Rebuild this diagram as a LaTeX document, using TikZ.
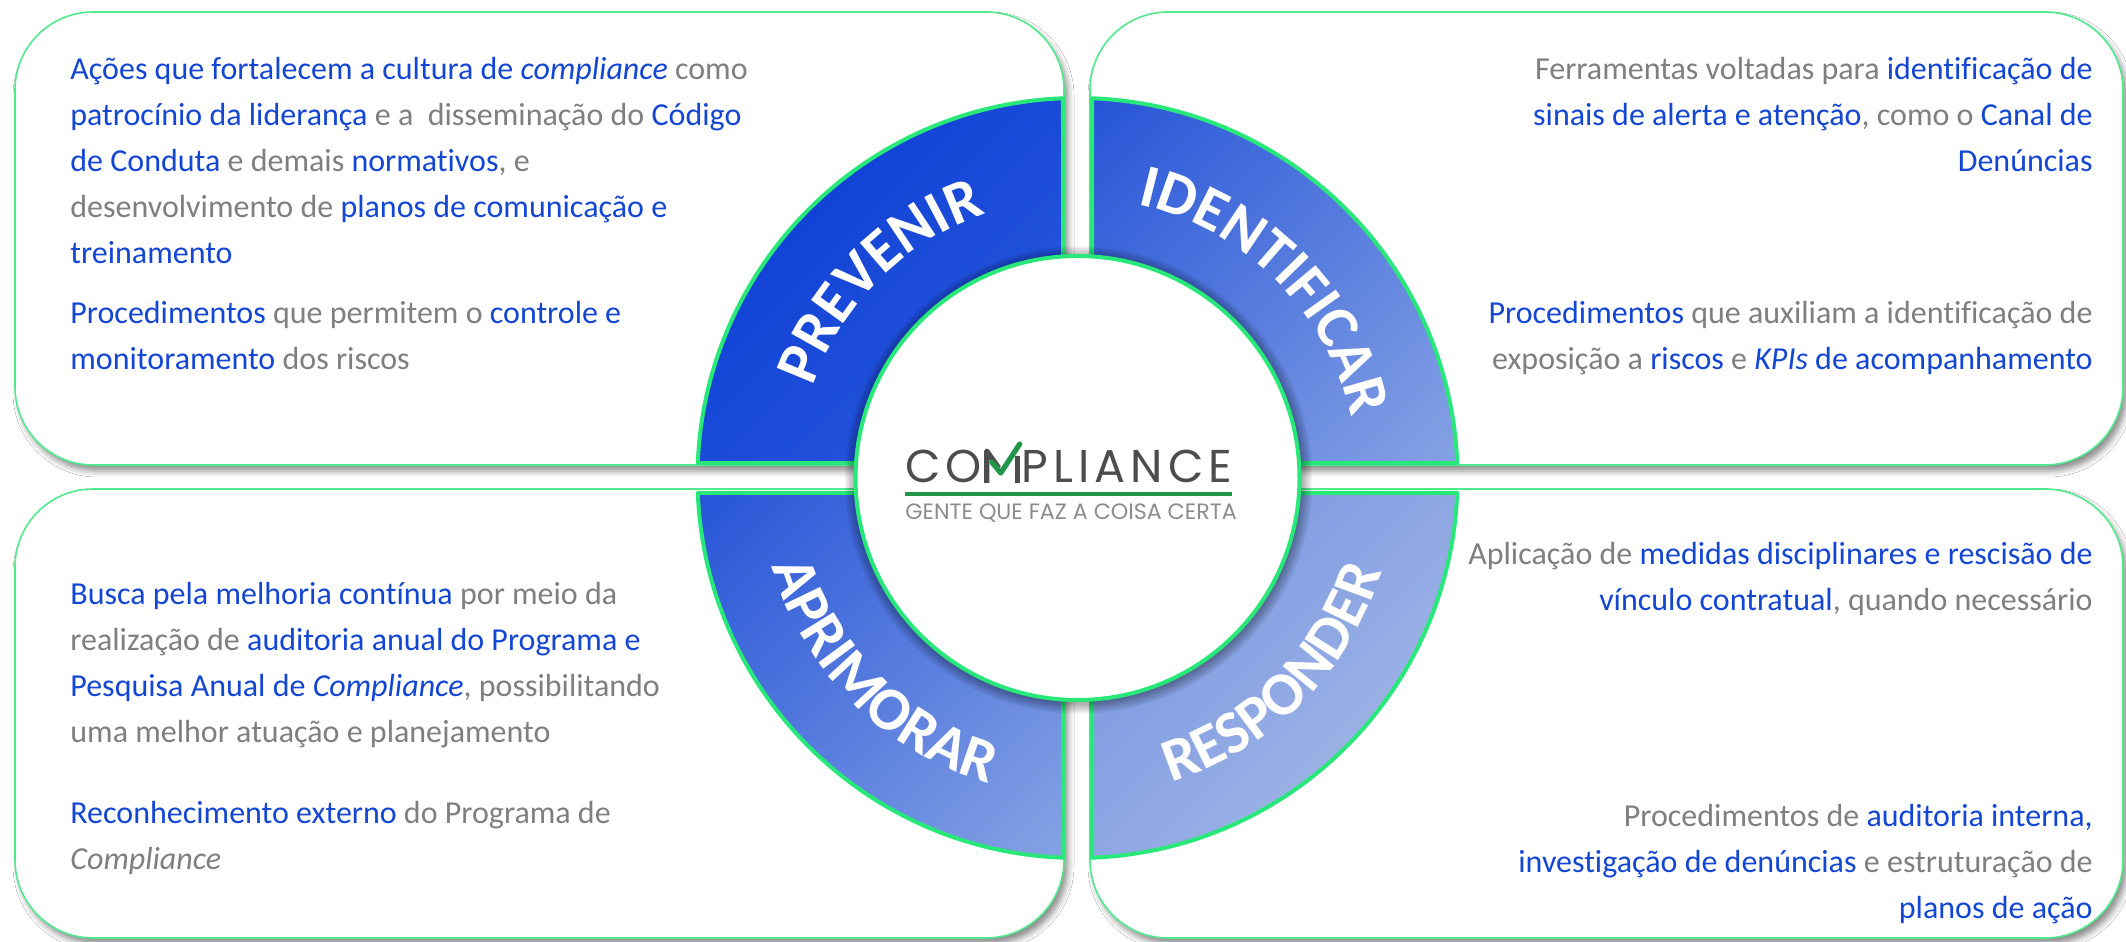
\documentclass[tikz,border=0pt]{standalone}
\usepackage{fontspec}
\setmainfont{Carlito}[Ligatures=NoCommon]
\newfontfamily\logofont{Poppins}[LetterSpace=11]
\newfontfamily\subfont{Poppins}
\usetikzlibrary{positioning,decorations.text,shadows.blur,shadings}

\definecolor{ringgreen}{RGB}{40,232,122}
\definecolor{boxgreen}{RGB}{80,234,142}
\definecolor{txtblue}{RGB}{20,70,212}
\definecolor{txtgray}{RGB}{127,127,127}
\definecolor{logogray}{RGB}{77,77,77}
\definecolor{logogreen}{RGB}{34,150,72}
\definecolor{subgray}{RGB}{140,140,140}
\definecolor{prevA}{RGB}{5,54,212}
\definecolor{prevB}{RGB}{46,94,220}
\definecolor{midA}{RGB}{38,84,216}
\definecolor{midB}{RGB}{134,162,228}
\definecolor{respA}{RGB}{111,143,224}
\definecolor{respB}{RGB}{174,192,232}

\newcommand{\bl}[1]{\textcolor{txtblue}{#1}}
\newcommand{\lblfont}{\fontsize{30.5}{31}\selectfont\bfseries}

\tikzset{
  box/.style={draw=boxgreen, line width=0.8pt, fill=white, rounded corners=39pt,
    blur shadow={shadow xshift=2pt, shadow yshift=-3pt, shadow blur radius=3pt, shadow opacity=45}},
  ring/.style={draw=ringgreen, line width=2pt},
  quad/.style 2 args={ring, upper left=#1, lower right=#2, upper right=#1!50!#2, lower left=#1!50!#2},
  txt/.style={inner sep=0pt, text=txtgray, font=\fontsize{16}{23}\selectfont},
  lbl/.style={decorate, decoration={text along path, text={|\lblfont|#1}, text align=center, text color=white}},
  logo/.style={inner sep=0pt, outer sep=0pt, text=logogray, font=\logofont\fontsize{23}{24}\selectfont},
  sub/.style={inner sep=0pt, text=subgray, font=\subfont\fontsize{11.1}{12}\selectfont},
}

\begin{document}
\begin{tikzpicture}[x=0.5pt,y=0.5pt,line join=round,line cap=round]
\useasboundingbox (0,0) rectangle (2126,942);
\fill[white] (0,0) rectangle (2126,942);

% boxes
\draw[box] (15,477) rectangle (1064,930);
\draw[box] (1090,477) rectangle (2123,930);
\draw[box] (15,4) rectangle (1064,453);
\draw[box] (1090,4) rectangle (2123,453);

% ring
\coordinate (C) at (1077.5,464);
\begin{scope}[shift={(C)}]
\shadedraw[quad={prevA}{prevB}] (-14.5,15) -- (92.19:380) arc[start angle=92.19,end angle=177.74,radius=380] -- cycle;
\shadedraw[quad={midA}{midB}] (14.5,15) -- (2.26:380) arc[start angle=2.26,end angle=87.81,radius=380] -- cycle;
\shadedraw[quad={midA}{midB}] (-14.5,-15) -- (182.26:380) arc[start angle=182.26,end angle=267.81,radius=380] -- cycle;
\shadedraw[quad={respA}{respB}] (14.5,-15) -- (272.19:380) arc[start angle=272.19,end angle=357.74,radius=380] -- cycle;
\foreach \r in {1,...,12}
  \fill[black,opacity=0.03] (1,-2) circle[radius=222+\r];
\draw[ring,fill=white] (0,0) circle[radius=222];
\path[lbl=PREVENIR] (180:280) arc[start angle=180,end angle=90,radius=280];
\path[lbl=IDENTIFICAR] (90:280) arc[start angle=90,end angle=0,radius=280];
\path[lbl=APRIMORAR] (180:318) arc[start angle=180,end angle=270,radius=318];
\path[lbl=RESPONDER] (270:318) arc[start angle=270,end angle=360,radius=318];
\end{scope}

% logo
\node[logo, anchor=base west] (co) at (905,459) {CO};
\node[logo, base right=0pt of co, minimum width=20pt] (mm) {};
\node[logo, base right=0pt of mm] (pl) {PLIANCE};
\draw[logogray, line width=2.6pt, line cap=butt] ([shift={(5,0)}]mm.base west) -- ++(0,32) -- ++(12,-17);
\draw[logogreen, line width=2.6pt] ([shift={(10,21)}]mm.base west) -- ++(9,-11) -- ++(19,29);
\draw[logogray, line width=2.6pt, line cap=butt] ([shift={(36,0)}]mm.base west) -- ++(0,27);
\draw[logogreen, line width=2pt, line cap=butt] ([yshift=-5.5pt]co.base west) -- ([yshift=-5.5pt]pl.base east);
\node[sub, anchor=base west] (sub) at (905,422) {GENTE QUE FAZ A COISA CERTA};

% texts
\node[txt, anchor=north west, align=left] (tl1) at (70,895) {\strut\bl{Ações que fortalecem a cultura de \textit{compliance}} como\\
\bl{patrocínio da liderança} e a\ \ disseminação do \bl{Código}\\
\bl{de Conduta} e demais \bl{normativos}, e\\
desenvolvimento de \bl{planos de comunicação e}\\
\bl{treinamento}};
\node[txt, anchor=north west, align=left] (tl2) at (70,651) {\strut\bl{Procedimentos} que permitem o \bl{controle e}\\
\bl{monitoramento} dos riscos};
\node[txt, anchor=north east, align=right] (tr1) at (2093,895) {\strut Ferramentas voltadas para \bl{identificação de}\\
\bl{sinais de alerta e atenção}, como o \bl{Canal de}\\
\bl{Denúncias}};
\node[txt, anchor=north east, align=right] (tr2) at (2093,651) {\strut\bl{Procedimentos} que auxiliam a identificação de\\
exposição a \bl{riscos} e \bl{\textit{KPIs} de acompanhamento}};
\node[txt, anchor=north west, align=left] (bl1) at (70,370) {\strut\bl{Busca pela melhoria contínua} por meio da\\
realização de \bl{auditoria anual do Programa e}\\
\bl{Pesquisa Anual de \textit{Compliance}}, possibilitando\\
uma melhor atuação e planejamento};
\node[txt, anchor=north west, align=left] (bl2) at (70,151) {\strut\bl{Reconhecimento externo} do Programa de\\
\textit{Compliance}};
\node[txt, anchor=north east, align=right] (br1) at (2093,410) {\strut Aplicação de \bl{medidas disciplinares e rescisão de}\\
\bl{vínculo contratual}, quando necessário};
\node[txt, anchor=north east, align=right] (br2) at (2093,148) {\strut Procedimentos de \bl{auditoria interna,}\\
\bl{investigação de denúncias} e estruturação de\\
\bl{planos de ação}};
\end{tikzpicture}
\end{document}
